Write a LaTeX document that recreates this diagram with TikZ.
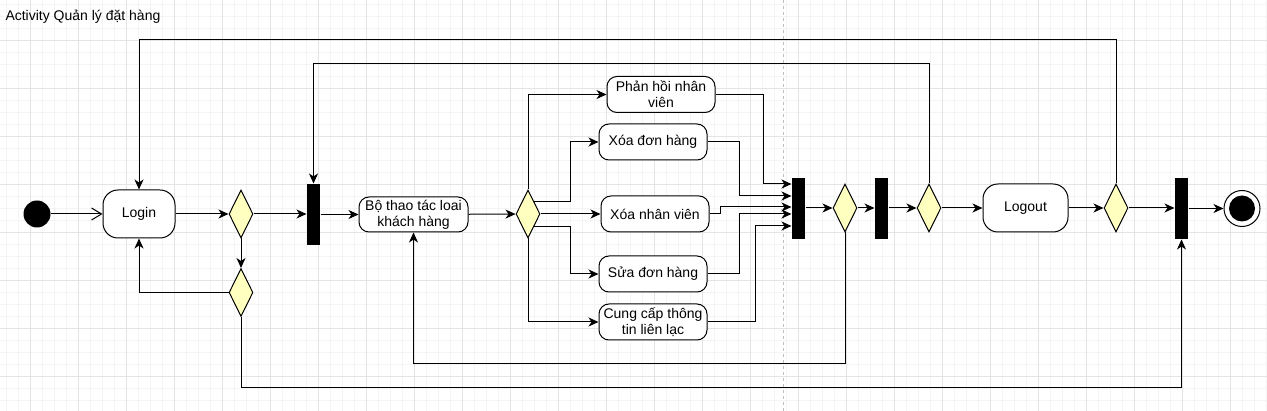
\documentclass[tikz,border=0pt]{standalone}
\usepackage{fontspec}
\setmainfont{Liberation Sans}
\usetikzlibrary{shapes.geometric,arrows.meta}
\definecolor{decfill}{HTML}{FFFFC0}
\definecolor{gridminor}{HTML}{F4F4F4}
\definecolor{gridmajor}{HTML}{E4E4E4}
\definecolor{pagebreak}{HTML}{C0C0C0}
\begin{document}
\begin{tikzpicture}[x=1pt,y=-1pt,line width=1pt,font=\fontsize{14}{16}\selectfont,
  act/.style={draw,rounded corners=10pt,fill=white,align=center,inner sep=0pt},
  dec/.style={diamond,draw,fill=decfill,minimum width=24pt,minimum height=48pt,inner sep=0pt},
  bar/.style={rectangle,fill=black,draw=none,minimum width=13pt,minimum height=61pt,inner sep=0pt},
  arr/.style={-{Stealth[length=10pt,width=9pt,inset=3pt]}},
  openarr/.style={-{Straight Barb[length=10pt,width=12pt]}},
  minorgrid/.style={draw=gridminor,line width=0.8pt},
  majorgrid/.style={draw=gridmajor,line width=0.8pt}]
% background and grid
\fill[white] (0,0) rectangle (1267,411);
\useasboundingbox (0,0) rectangle (1267,411);
\foreach \x in {6,18,...,1266} \draw[minorgrid] (\x,0) -- (\x,411);
\foreach \y in {4,16,...,410} \draw[minorgrid] (0,\y) -- (1267,\y);
\foreach \x in {30,78,...,1266} \draw[majorgrid] (\x,0) -- (\x,411);
\foreach \y in {40,88,...,410} \draw[majorgrid] (0,\y) -- (1267,\y);
\draw[pagebreak,dash pattern=on 3pt off 3pt] (783,0) -- (783,411);

% title
\node[anchor=west,inner sep=0pt] (title) at (5,17) {Activity Quản lý đặt hàng};

% nodes
\node[circle,fill=black,minimum size=27pt,inner sep=0pt] (init) at (37,214) {};
\node[act,rounded corners=15pt,minimum width=72pt,minimum height=48pt] (login) at (139,214) {Login};
\node[dec] (d1) at (241,214) {};
\node[dec] (d2) at (241,292.5) {};
\node[bar] (bar1) at (313.5,214.5) {};
\node[act,minimum width=109pt,minimum height=35pt] (bo) at (413.5,214.5) {Bộ thao tác loai\\khách hàng};
\node[dec] (d3) at (528,214) {};
\node[act,minimum width=108pt,minimum height=36pt] (ph) at (661,94.5) {Phản hồi nhân\\viên};
\node[act,minimum width=108pt,minimum height=36pt] (xdh) at (653,142) {Xóa đơn hàng};
\node[act,minimum width=108pt,minimum height=36pt] (xnv) at (655,214) {Xóa nhân viên};
\node[act,minimum width=108pt,minimum height=36pt] (sdh) at (653,274) {Sửa đơn hàng};
\node[act,minimum width=108pt,minimum height=36pt] (cc) at (653,322) {Cung cấp thông\\tin liên lạc};
\node[bar] (bar2) at (798.5,208.5) {};
\node[dec] (d4) at (845,208) {};
\node[bar] (bar3) at (881.5,208.5) {};
\node[dec] (d5) at (929,208) {};
\node[act,rounded corners=15pt,minimum width=85pt,minimum height=48pt] (logout) at (1025.5,208) {Logout};
\node[dec] (d6) at (1116,208) {};
\node[bar] (bar4) at (1181.5,208.5) {};
\node[circle,draw,fill=white,minimum size=36pt,inner sep=0pt] (fin) at (1242,208.5) {};
\fill[black] (fin.center) circle (13pt);

% helper coordinates
\coordinate (topy) at (0,40);
\coordinate (midy) at (0,64);
\coordinate (lowy) at (0,388);
\coordinate (backy) at (0,364);
\coordinate (jx) at (570,0);
\coordinate (w1) at (763,184);
\coordinate (w2) at (739,196);
\coordinate (w3) at (720,207);
\coordinate (w4) at (739,214);
\coordinate (w5) at (755,226);

% connectors
\draw[openarr] (init) -- (login);
\draw[arr] (login) -- (d1);
\draw[arr] (d1.east) -- (d1.east -| bar1.west);
\draw[arr] (bar1.east |- bo.west) -- (bo.west);
\draw[arr] (d1.south) -- (d2.north);
\draw[arr] (d2.west) -| (login.south);
\draw[arr] (d2.south) -- (d2.south |- lowy) -| (bar4.south);
\draw[arr] (d6.north) -- (d6.north |- topy) -| (login.north);
\draw[arr] (d5.north) -- (d5.north |- midy) -| (bar1.north);
\draw[arr] (bo) -- (d3);
\draw[arr] (d3.north) |- (ph.west);
\draw[arr] (d3.north east) -- (d3.north east -| jx) |- (xdh.west);
\draw[arr] (d3.east) -- (xnv.west);
\draw[arr] (d3.south east) -- (d3.south east -| jx) |- (sdh.west);
\draw[arr] (d3.south) |- (cc.west);
\draw[arr] (ph.east) -| (w1) -- (w1 -| bar2.west);
\draw[arr] (xdh.east) -| (w2) -- (w2 -| bar2.west);
\draw[arr] (xnv.east) -| (w3) -- (w3 -| bar2.west);
\draw[arr] (sdh.east) -| (w4) -- (w4 -| bar2.west);
\draw[arr] (cc.east) -| (w5) -- (w5 -| bar2.west);
\draw[arr] (bar2.east |- d4.west) -- (d4.west);
\draw[arr] (d4.east) -- (d4.east -| bar3.west);
\draw[arr] (bar3.east |- d5.west) -- (d5.west);
\draw[arr] (d5) -- (logout);
\draw[arr] (logout) -- (d6);
\draw[arr] (d6.east) -- (d6.east -| bar4.west);
\draw[arr] (bar4.east |- fin.west) -- (fin.west);
\draw[arr] (d4.south) -- (d4.south |- backy) -| (bo.south);
\end{tikzpicture}
\end{document}
